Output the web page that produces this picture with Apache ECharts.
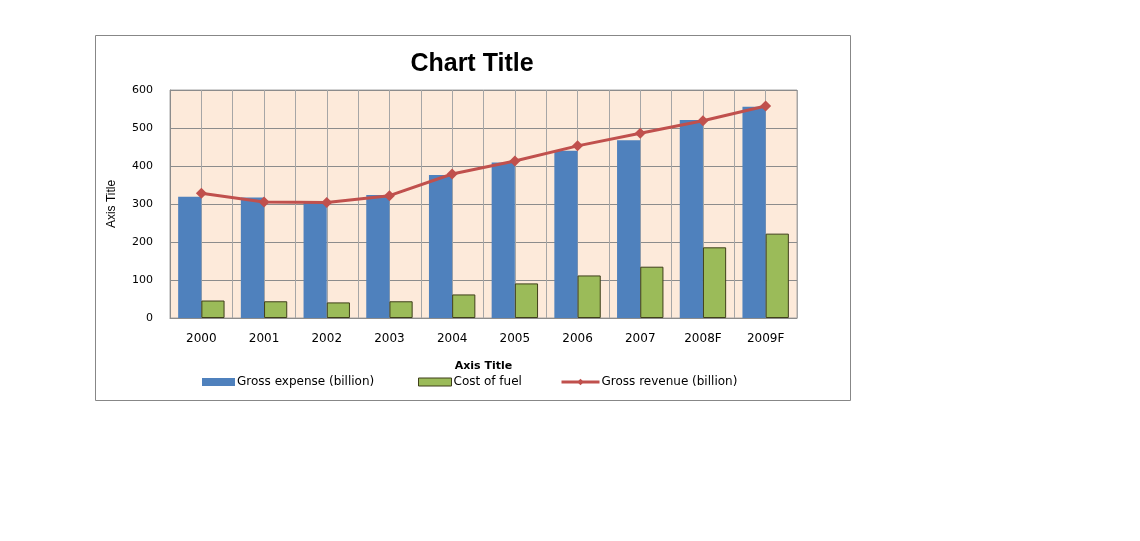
<!DOCTYPE html>
<html>
<head>
<meta charset="utf-8">
<script src="https://cdn.jsdelivr.net/npm/echarts@6/dist/echarts.min.js"></script>
<style>html,body{margin:0;padding:0;background:#fff;}#c{width:1140px;height:541px;}</style>
</head>
<body>
<div id="c"></div>
<script>
const categories = ['2000','2001','2002','2003','2004','2005','2006','2007','2008F','2009F'];
const grossExpense = [319, 317, 305, 324, 376, 409, 440, 468, 521, 556];
const costOfFuel = [46, 44, 41, 44, 62, 91, 112, 135, 186, 222];
const grossRevenue = [328, 305, 304, 322, 379, 413, 453, 486, 519, 558];
const yTicks = [0, 100, 200, 300, 400, 500, 600];
const seriesNames = ['Gross expense (billion)', 'Cost of fuel', 'Gross revenue (billion)'];

const halfCats = categories.flatMap(c => [c + '-a', c + '-b']);
const font = 'DejaVu Sans';
const legendBase = {
  top: 376, itemWidth: 33, itemHeight: 8, padding: 0,
  textStyle: {fontFamily: font, fontSize: 12, color: '#000', padding: [0, 0, 0, -3]}
};
const chart = echarts.init(document.getElementById('c'), null, {renderer: 'canvas'});
chart.setOption({
  animation: false,
  backgroundColor: '#ffffff',
  textStyle: {fontFamily: font},
  graphic: [{
    type: 'rect', shape: {x: 95.5, y: 35.5, width: 755, height: 365},
    style: {fill: 'none', stroke: '#878787', lineWidth: 1}, z: -1
  }],
  title: {
    text: 'Chart Title', left: 467, textAlign: 'center', top: 47,
    textStyle: {fontFamily: 'Liberation Sans', fontWeight: 'bold', fontSize: 25, color: '#000'}
  },
  grid: {
    left: 170, top: 90, width: 627, height: 228, show: true,
    backgroundColor: '#FDEADA', borderColor: '#a6a6a6', borderWidth: 1
  },
  legend: [
    Object.assign({}, legendBase, {left: 202, data: [{name: seriesNames[0], icon: 'rect'}]}),
    Object.assign({}, legendBase, {left: 418, itemStyle: {borderWidth: 1}, data: [{name: seriesNames[1], icon: 'rect'}]}),
    Object.assign({}, legendBase, {left: 560, itemWidth: 38, lineStyle: {width: 3}, data: [{name: seriesNames[2]}]})
  ],
  xAxis: [{
    type: 'category', data: categories,
    name: 'Axis Title', nameLocation: 'middle', nameGap: 43,
    nameTextStyle: {fontFamily: font, fontWeight: 'bold', fontSize: 11, color: '#000'},
    axisLine: {lineStyle: {color: '#8c8c8c'}},
    axisTick: {show: false},
    axisLabel: {fontSize: 12, color: '#000', margin: 15, interval: 0},
    splitLine: {show: false}
  }, {
    type: 'category', data: halfCats, position: 'bottom',
    axisLine: {show: false}, axisTick: {show: false}, axisLabel: {show: false},
    splitLine: {show: true, interval: 0, lineStyle: {color: '#a6a6a6', width: 1}}
  }],
  yAxis: {
    type: 'value', min: yTicks[0], max: yTicks[yTicks.length - 1], interval: 100,
    name: 'Axis Title', nameLocation: 'middle', nameGap: 52, nameRotate: 90,
    nameTextStyle: {fontFamily: 'Liberation Sans Narrow, Liberation Sans', fontSize: 12, color: '#000'},
    axisLine: {show: true, lineStyle: {color: '#8c8c8c'}},
    axisTick: {show: false},
    axisLabel: {fontSize: 11, color: '#000', margin: 17},
    splitLine: {lineStyle: {color: '#8c8c8c', width: 1}}
  },
  series: [{
    name: seriesNames[0], type: 'bar', data: grossExpense,
    barGap: '0%', barCategoryGap: '26%',
    itemStyle: {color: '#4F81BD'}
  }, {
    name: seriesNames[1], type: 'bar', data: costOfFuel,
    itemStyle: {color: '#9BBB59', borderColor: '#3f3f1a', borderWidth: 1}
  }, {
    name: seriesNames[2], type: 'line', data: grossRevenue,
    symbol: 'diamond', symbolSize: 11,
    lineStyle: {color: '#C0504D', width: 3},
    itemStyle: {color: '#C0504D'}, z: 5
  }]
});
</script>
</body>
</html>
